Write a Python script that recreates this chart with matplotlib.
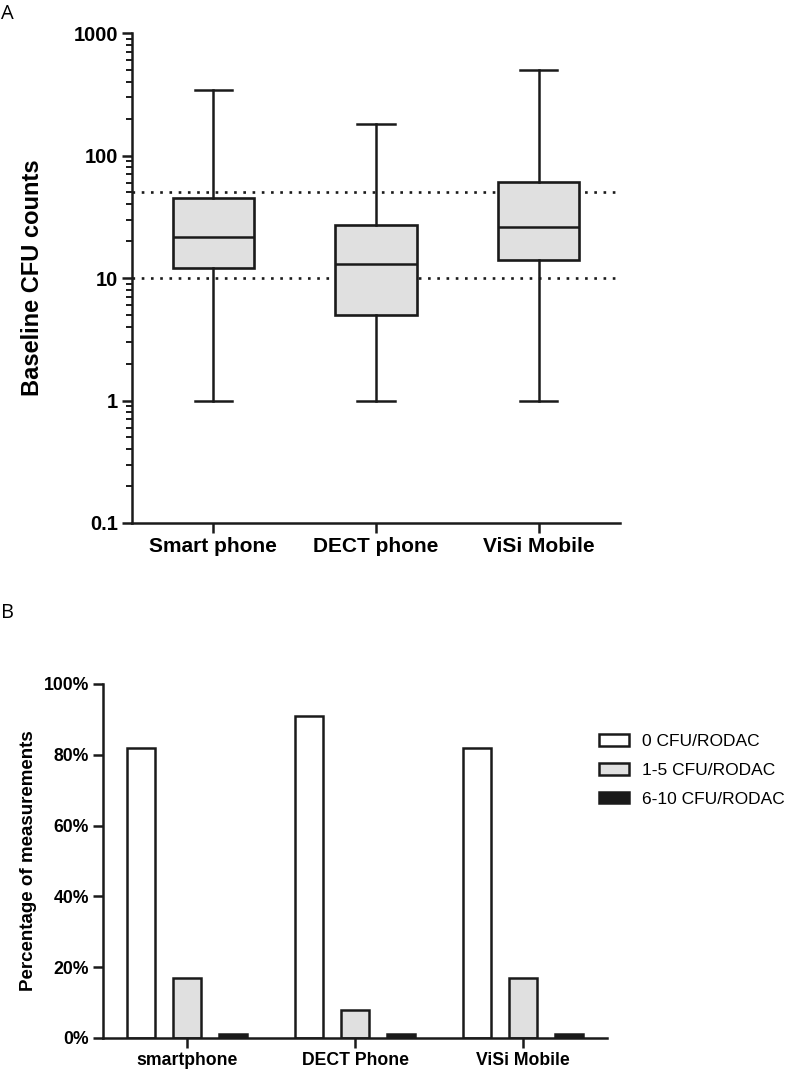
import matplotlib
matplotlib.use('Agg')
import matplotlib.pyplot as plt
from matplotlib.ticker import FixedLocator, LogLocator, NullFormatter, FuncFormatter

# panel A: baseline CFU counts (box = q1/median/q3, whiskers = min/max)
devices_a = ['Smart phone', 'DECT phone', 'ViSi Mobile']
cfu_min = [1, 1, 1]
cfu_q1 = [12, 5, 14]
cfu_med = [21.5, 13, 26]
cfu_q3 = [45, 27, 61]
cfu_max = [345, 182, 500]
ref_lines = [10, 50]

# panel B: percentage of measurements per category
devices_b = ['smartphone', 'DECT Phone', 'ViSi Mobile']
cat_labels = ['0 CFU/RODAC', '1-5 CFU/RODAC', '6-10 CFU/RODAC']
pct_0 = [82, 91, 82]
pct_1_5 = [17, 8, 17]
pct_6_10 = [1, 1, 1]

edge = '#1a1a1a'
grey = '#e0e0e0'
plt.rcParams['font.family'] = 'Liberation Sans'
plt.rcParams['axes.linewidth'] = 1.8

fig = plt.figure(figsize=(7.87, 10.71), dpi=100)

# ---------- A ----------
axA = fig.add_axes([132/787, 1-523/1071, 488/787, 490/1071])
stats = []
for i in range(3):
    stats.append(dict(whislo=cfu_min[i], q1=cfu_q1[i], med=cfu_med[i],
                      q3=cfu_q3[i], whishi=cfu_max[i], fliers=[]))
lp = dict(color=edge, linewidth=1.8)
axA.bxp(stats, positions=[1, 2, 3], widths=0.5, capwidths=0.23,
        patch_artist=True, showfliers=False,
        boxprops=dict(facecolor=grey, edgecolor=edge, linewidth=1.9),
        medianprops=lp, whiskerprops=lp, capprops=lp, zorder=3)
for v in ref_lines:
    axA.axhline(v, xmax=0.99, color=edge, lw=1.9, ls=(0, (1, 2.5)), zorder=1)
axA.set_yscale('log')
axA.set_ylim(0.1, 1000)
axA.set_xlim(0.5, 3.5)
axA.yaxis.set_major_locator(FixedLocator([0.1, 1, 10, 100, 1000]))
axA.yaxis.set_major_formatter(FuncFormatter(lambda v, p: '%g' % v))
axA.yaxis.set_minor_locator(LogLocator(base=10, subs=range(2, 10)))
axA.yaxis.set_minor_formatter(NullFormatter())
axA.set_xticks([1, 2, 3])
axA.set_xticklabels(devices_a)
for s in ['top', 'right']:
    axA.spines[s].set_visible(False)
for s in ['left', 'bottom']:
    axA.spines[s].set_color(edge)
axA.tick_params(axis='both', which='major', length=7, width=1.8, color=edge, pad=3)
axA.tick_params(axis='y', which='minor', length=4, width=1.4, color=edge)
axA.tick_params(axis='y', labelsize=14.5)
axA.tick_params(axis='x', labelsize=15)
for t in axA.get_xticklabels() + axA.get_yticklabels():
    t.set_fontweight('bold')
axA.set_ylabel('Baseline CFU counts', fontsize=17, fontweight='bold')
axA.yaxis.set_label_coords(-0.18, 0.5)

# ---------- B ----------
axB = fig.add_axes([103/787, 1-1038/1071, 504/787, 354/1071])
x = [0, 1, 2]
off = 0.273
w = 0.17
axB.bar([i - off for i in x], pct_0, w, color='white', edgecolor=edge, linewidth=1.8, label=cat_labels[0])
axB.bar(x, pct_1_5, w, color=grey, edgecolor=edge, linewidth=1.8, label=cat_labels[1])
axB.bar([i + off for i in x], pct_6_10, w, color=edge, edgecolor=edge, linewidth=1.8, label=cat_labels[2])
axB.set_ylim(0, 100)
axB.set_xlim(-0.5, 2.5)
axB.set_yticks([0, 20, 40, 60, 80, 100])
axB.set_yticklabels(['%d%%' % v for v in [0, 20, 40, 60, 80, 100]])
axB.set_xticks(x)
axB.set_xticklabels(devices_b)
for s in ['top', 'right']:
    axB.spines[s].set_visible(False)
for s in ['left', 'bottom']:
    axB.spines[s].set_color(edge)
axB.tick_params(axis='both', length=7, width=1.8, color=edge, labelsize=12.7, pad=3)
for t in axB.get_xticklabels() + axB.get_yticklabels():
    t.set_fontweight('bold')
axB.set_ylabel('Percentage of measurements', fontsize=13.5, fontweight='bold')
axB.yaxis.set_label_coords(-0.131, 0.5)
fig.legend(loc='upper left', bbox_to_anchor=(599/787, 1-734/1071), frameon=False,
           fontsize=12.5, handlelength=1.7, handleheight=0.65, handletextpad=0.8,
           labelspacing=0.8, borderpad=0, borderaxespad=0)

fig.text(1/787, 1-14/1071, 'A', fontsize=14.5, family='Open Sans', va='center')
fig.text(1/787, 1-613/1071, 'B', fontsize=14.5, family='Open Sans', va='center')

fig.savefig('out.png', dpi=100)
